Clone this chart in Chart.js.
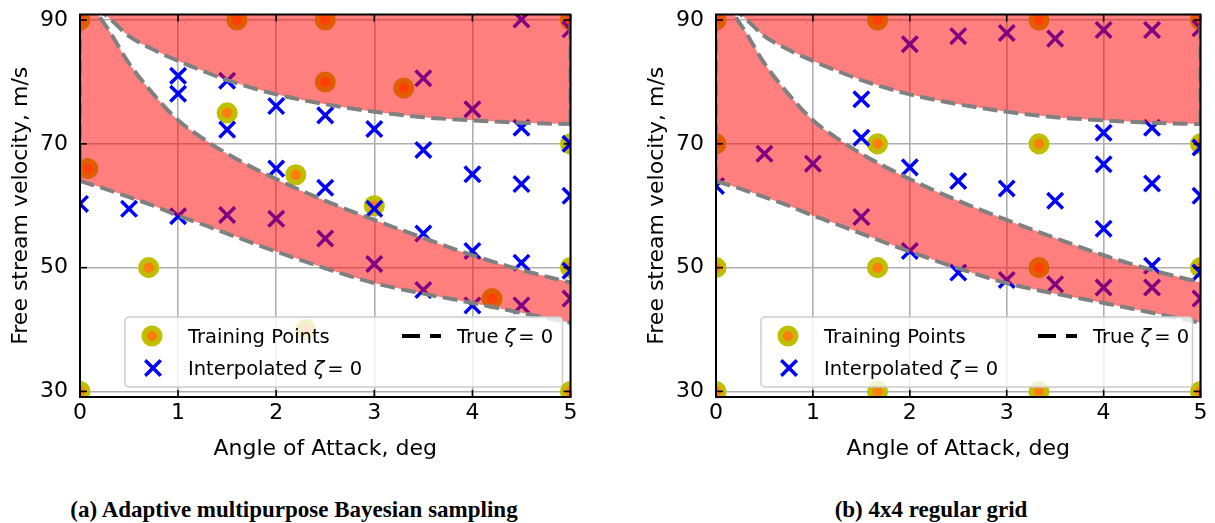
<!DOCTYPE html>
<html><head><meta charset="utf-8">
<script src="https://cdn.jsdelivr.net/npm/chart.js@4.4.0/dist/chart.umd.min.js"></script>
<style>
html,body{margin:0;padding:0;background:#fff;width:1215px;height:523px;overflow:hidden;}
#ca{position:absolute;left:0;top:0;}
#cb{position:absolute;left:636px;top:0;}
.cap{position:absolute;top:497px;height:26px;line-height:26px;font-family:"Liberation Serif";font-weight:bold;font-size:23px;white-space:nowrap;transform:translateX(-50%);color:#000;}
</style></head><body>
<canvas id="ca" width="600" height="470"></canvas>
<canvas id="cb" width="579" height="470"></canvas>
<div class="cap" style="left:294px">(a) Adaptive multipurpose Bayesian sampling</div>
<div class="cap" style="left:931px">(b) 4x4 regular grid</div>
<script>
// ---------------- data ----------------
const xTicks = [0, 1, 2, 3, 4, 5];
const yTicks = [30, 50, 70, 90];
const xLabel = 'Angle of Attack, deg';
const yLabel = 'Free stream velocity, m/s';

// true zeta = 0 contour boundaries (same for both panels)
const curveX         = [0, 0.1, 0.2, 0.3, 0.5, 0.75, 1, 1.25, 1.5, 2, 2.5, 3, 3.5, 4, 4.5, 5];
const upperBoundary  = [94.5, 93.0, 91.6, 90.3, 87.4, 85.2, 83.4, 81.8, 80.3, 78.0, 76.4, 75.2, 74.3, 73.8, 73.4, 73.2];
const middleBoundary = [96.5, 93.6, 90.6, 88.2, 83.0, 78.0, 73.8, 70.9, 68.4, 64.3, 60.8, 57.7, 54.8, 52.0, 49.6, 47.6];
const lowerBoundary  = [64.0, 63.5, 63.0, 62.5, 61.4, 60.0, 58.4, 57.0, 55.5, 52.6, 49.9, 47.5, 45.8, 44.3, 42.7, 41.1];

// (a) adaptive sampling
const trainAX = [0, 1.6, 2.5, 5, 2.5, 3.3, 1.5, 0.08, 2.2, 3.0, 5, 0.7, 0, 2.3, 4.2, 5, 5];
const trainAY = [90, 90, 90, 90, 80, 79, 75, 66, 65, 60, 70, 50, 30, 40, 45, 50, 30];
const interpAX = [0, 0.5, 1, 1.5, 2, 2.5, 3, 3.5, 4, 4.5, 5,
                  1, 1, 1.5, 1.5, 2, 2, 2.5, 2.5, 3, 3, 3.5, 3.5, 3.5, 4, 4, 4, 4.5, 4.5, 4.5, 4.5, 5, 5, 5, 5];
const interpAY = [60.3, 59.5, 58.3, 58.5, 57.9, 54.7, 50.6, 46.4, 43.9, 43.9, 45.0,
                  81.0, 78.1, 80.2, 72.3, 76.1, 66.0, 74.6, 62.9, 72.4, 59.5, 80.6, 69.0, 55.5, 75.6, 65.1, 52.7, 90.1, 72.6, 63.5, 50.8, 88.5, 70.0, 61.6, 49.5];

// (b) 4x4 regular grid
const trainBX = [0, 0, 0, 0, 1.667, 1.667, 1.667, 1.667, 3.333, 3.333, 3.333, 3.333, 5, 5, 5, 5];
const trainBY = [30, 50, 70, 90, 30, 50, 70, 90, 30, 50, 70, 90, 30, 50, 70, 90];
const interpBX = [0, 0.5, 1, 1.5, 2, 2.5, 3, 3.5, 4, 4.5, 5,
                  1.5, 1.5, 2, 2, 2.5, 2.5, 3, 3, 3.5, 3.5, 4, 4, 4, 4, 4.5, 4.5, 4.5, 4.5, 5, 5, 5, 5];
const interpBY = [63.2, 68.4, 66.8, 58.2, 52.7, 49.2, 48.0, 47.3, 46.8, 46.8, 45.0,
                  77.2, 71.0, 86.1, 66.2, 87.4, 64.0, 87.9, 62.8, 87.0, 60.8, 88.4, 71.8, 66.7, 56.3, 88.4, 72.6, 63.6, 50.3, 88.7, 69.4, 61.6, 49.2];

// ---------------- drawing ----------------
const RED = 'rgba(255,0,0,0.5)';
function pts(xs, ys) { return xs.map((x, i) => ({ x: x, y: ys[i] })); }

function framePlugin() {
  return {
    id: 'frameLegend',
    afterDraw(chart) {
      const ctx = chart.ctx, a = chart.chartArea, sx = chart.scales.x, sy = chart.scales.y;
      ctx.save();
      // inward ticks
      ctx.strokeStyle = '#000'; ctx.lineWidth = 1.6;
      const seg = (x1, y1, x2, y2) => { ctx.beginPath(); ctx.moveTo(x1, y1); ctx.lineTo(x2, y2); ctx.stroke(); };
      xTicks.forEach(v => { const p = sx.getPixelForValue(v); seg(p, a.bottom, p, a.bottom - 7); seg(p, a.top, p, a.top + 7); });
      yTicks.forEach(v => { const p = sy.getPixelForValue(v); seg(a.left, p, a.left + 7, p); seg(a.right, p, a.right - 7, p); });
      // frame
      ctx.lineWidth = 2;
      ctx.strokeRect(a.left, a.top, a.right - a.left, a.bottom - a.top);
      // axis titles
      ctx.fillStyle = '#000';
      ctx.font = '22px "DejaVu Sans"';
      ctx.textAlign = 'center'; ctx.textBaseline = 'alphabetic';
      ctx.fillText(xLabel, (a.left + a.right) / 2, 455);
      ctx.save();
      ctx.translate(21, (a.top + a.bottom) / 2);
      ctx.rotate(-Math.PI / 2);
      ctx.textBaseline = 'middle';
      ctx.fillText(yLabel, 0, 0);
      ctx.restore();
      // legend
      const L = a.left + 45, R = a.right - 8, T = a.bottom - 80, B = a.bottom - 10;
      ctx.beginPath();
      ctx.roundRect(L, T, R - L, B - T, 4);
      ctx.fillStyle = 'rgba(255,255,255,0.8)'; ctx.fill();
      ctx.strokeStyle = '#cccccc'; ctx.lineWidth = 1.5; ctx.stroke();
      const y1 = T + 19, y2 = T + 51;
      ctx.beginPath(); ctx.arc(L + 27, y1, 7.9, 0, Math.PI * 2);
      ctx.fillStyle = '#ff7f0e'; ctx.fill();
      ctx.lineWidth = 5.3; ctx.strokeStyle = '#bfbf00'; ctx.stroke();
      const d = 11 * Math.SQRT1_2, cx = L + 28;
      ctx.strokeStyle = '#0000ff'; ctx.lineWidth = 3.5;
      seg(cx - d, y2 - d, cx + d, y2 + d); seg(cx - d, y2 + d, cx + d, y2 - d);
      ctx.strokeStyle = '#000'; ctx.lineWidth = 4; ctx.setLineDash([18, 10]);
      seg(L + 277, y1, L + 316, y1);
      ctx.setLineDash([]);
      const fs = 19.5;
      const mathText = (prefix, x, y) => {
        ctx.font = fs + 'px "DejaVu Sans"';
        ctx.fillText(prefix, x, y); x += ctx.measureText(prefix).width;
        ctx.font = 'italic ' + fs + 'px "DejaVu Sans"';
        ctx.fillText('\u03B6', x, y); x += ctx.measureText('\u03B6').width + 3;
        ctx.font = fs + 'px "DejaVu Sans"';
        ctx.fillText('= 0', x, y);
      };
      ctx.fillStyle = '#000'; ctx.textAlign = 'left'; ctx.textBaseline = 'alphabetic';
      ctx.font = fs + 'px "DejaVu Sans"';
      ctx.fillText('Training Points', L + 63, y1 + 7);
      mathText('Interpolated ', L + 63, y2 + 7);
      mathText('True ', L + 332, y1 + 7);
      ctx.restore();
    }
  };
}

function makeChart(id, tx, ty, ix, iy, padRight) {
  const line = {
    type: 'line', pointRadius: 0, borderColor: '#808080', borderWidth: 4,
    borderDash: [14.8, 6.4], fill: false, cubicInterpolationMode: 'monotone', clip: 0, order: 0
  };
  const area = {
    type: 'line', pointRadius: 0, borderWidth: 0, borderColor: 'rgba(0,0,0,0)',
    backgroundColor: RED, cubicInterpolationMode: 'monotone', clip: 0, order: 5
  };
  const datasets = [
    Object.assign({}, line, { label: 'lower', data: pts(curveX, lowerBoundary) }),
    Object.assign({}, line, { label: 'middle', data: pts(curveX, middleBoundary) }),
    Object.assign({}, line, { label: 'upper', data: pts(curveX, upperBoundary) }),
    Object.assign({}, line, { label: 'edge0', cubicInterpolationMode: 'default', tension: 0,
      data: [{ x: 0, y: lowerBoundary[0] }, { x: 0, y: 91 }] }),
    Object.assign({}, line, { label: 'edge5', cubicInterpolationMode: 'default', tension: 0,
      data: [{ x: 5, y: upperBoundary[upperBoundary.length - 1] }, { x: 5, y: 91 }] }),
    Object.assign({}, area, { label: 'fillUpper', data: pts(curveX, upperBoundary), fill: 'end' }),
    Object.assign({}, area, { label: 'fillBand', data: pts(curveX, middleBoundary), fill: { target: 0 } }),
    { type: 'scatter', label: 'Interpolated', data: pts(ix, iy), pointStyle: 'crossRot', pointRadius: 11,
      borderWidth: 3.5, borderColor: '#0000ff', backgroundColor: '#0000ff', order: 8, clip: 0 },
    { type: 'scatter', label: 'Training Points', data: pts(tx, ty), pointStyle: 'circle', pointRadius: 7.9,
      borderWidth: 5.3, borderColor: '#bfbf00', backgroundColor: '#ff7f0e', order: 9, clip: 0 }
  ];
  return new Chart(document.getElementById(id), {
    type: 'scatter',
    data: { datasets: datasets },
    options: {
      responsive: false, animation: false, events: [], devicePixelRatio: 1,
      layout: { padding: { top: 14, right: padRight, left: 0, bottom: 0 } },
      plugins: { legend: { display: false }, tooltip: { enabled: false } },
      scales: {
        x: {
          type: 'linear', min: 0, max: 5, z: 1,
          afterBuildTicks: s => { s.ticks = xTicks.map(v => ({ value: v })); },
          afterFit: s => { s.height = 73; s.paddingLeft = 0; s.paddingRight = 0; },
          grid: { color: '#b0b0b0', lineWidth: 1.6, drawTicks: false },
          border: { display: false },
          ticks: { color: '#000', font: { family: 'DejaVu Sans', size: 22 }, padding: 3, maxRotation: 0, autoSkip: false }
        },
        y: {
          type: 'linear', min: 29.1, max: 90.9, z: 1,
          afterBuildTicks: s => { s.ticks = yTicks.map(v => ({ value: v })); },
          afterFit: s => { s.width = 80; s.paddingTop = 0; s.paddingBottom = 0; },
          grid: { color: '#b0b0b0', lineWidth: 1.6, drawTicks: false },
          border: { display: false },
          ticks: { color: '#000', font: { family: 'DejaVu Sans', size: 22 }, padding: 12, autoSkip: false }
        }
      }
    },
    plugins: [framePlugin()]
  });
}

makeChart('ca', trainAX, trainAY, interpAX, interpAY, 29.5);
makeChart('cb', trainBX, trainBY, interpBX, interpBY, 7.4);
</script>
</body></html>
